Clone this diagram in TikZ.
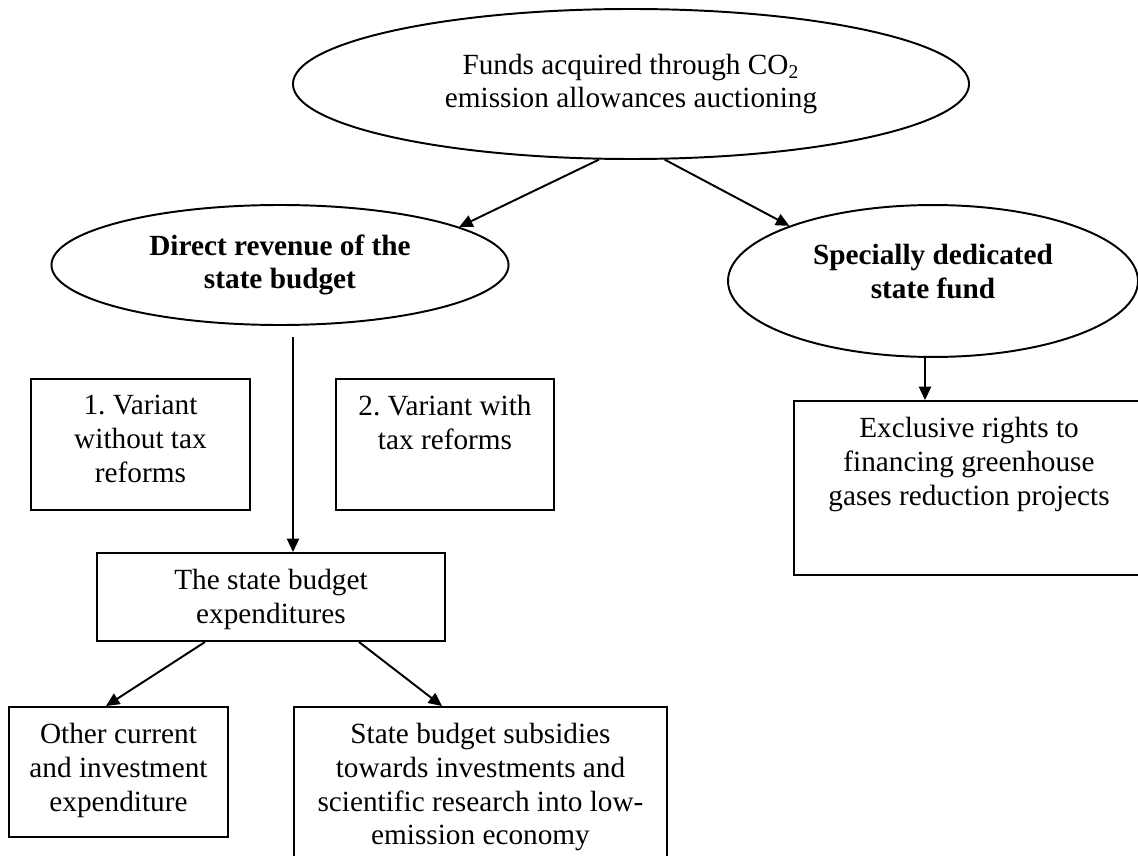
\documentclass[tikz,border=0pt]{standalone}
\usepackage{fontspec}
\setmainfont{Liberation Serif}
\usetikzlibrary{arrows.meta,calc,shapes.geometric}
\frenchspacing
\begin{document}
\begin{tikzpicture}[x=0.41pt,y=-0.41pt,
  every node/.style={font=\fontsize{12}{13.8}\selectfont},
  oval/.style={draw, ellipse, line width=0.8pt, inner sep=0pt, align=center},
  box/.style={draw, rectangle, line width=0.8pt, inner sep=0pt},
  boxtext/.style={align=center, inner sep=0pt, anchor=north},
  arr/.style={line width=0.8pt, -{Triangle[length=5.5pt,width=5pt]}},
]
\useasboundingbox (0,0) rectangle (1138,856);

% source of the funds
\node[oval, minimum width=277.2pt, minimum height=61.5pt] (funds) at (631,84)
  {Funds acquired through CO\textsubscript{2}\\emission allowances auctioning};

% the two ways the money can go
\node[oval, minimum width=187.4pt, minimum height=49.2pt] (revenue) at (280,265)
  {\bfseries Direct revenue of the\\\bfseries state budget};
\node[oval, minimum width=168.1pt, minimum height=62.3pt] (fund) at (933,281) {};
\node[align=center, inner sep=0pt] (fundtxt) at ([yshift=4pt]fund.center)
  {\bfseries Specially dedicated\\\bfseries state fund};

% variants of the budget route
\node[box, minimum width=89.8pt, minimum height=53.7pt] (var1) at (140.5,444.5) {};
\node[boxtext] (var1txt) at ([yshift=-7pt]var1.north) {1. Variant\\without tax\\reforms};
\node[box, minimum width=89.4pt, minimum height=53.7pt] (var2) at (445,444.5) {};
\node[boxtext] (var2txt) at ([yshift=-7pt]var2.north) {2. Variant with\\tax reforms};

% budget expenditures and their split
\node[box, minimum width=142.7pt, minimum height=36.1pt] (spend) at (271,597) {};
\node[boxtext] (spendtxt) at ([yshift=-7pt]spend.north) {The state budget\\expenditures};
\node[box, minimum width=89.8pt, minimum height=53.3pt] (other) at (118.5,772) {};
\node[boxtext] (othertxt) at ([yshift=-7pt]other.north) {Other current\\and investment\\expenditure};
\node[box, minimum width=152.9pt, minimum height=70.9pt] (subsid) at (480.5,793.5) {};
\node[boxtext] (subsidtxt) at ([yshift=-7pt]subsid.north)
  {State budget subsidies\\towards investments and\\scientific research into low-\\emission economy};

% dedicated fund route
\node[box, minimum width=143.5pt, minimum height=71.3pt] (excl) at (969,488) {};
\node[boxtext] (excltxt) at ([yshift=-7pt]excl.north)
  {Exclusive rights to\\financing greenhouse\\gases reduction projects};

% connectors
\draw[arr] (funds.247) -- (revenue.12);
\draw[arr] (funds.294) -- (fund.159);

\coordinate (revout) at (293,337);
\draw[arr] (revout) -- (revout |- spend.north);

\coordinate (fundout) at ($(fund.south)+(-8,0)$);
\draw[arr] (fundout) -- (fundout |- excl.north);

\draw[arr] ($(spend.south)+(-66,0)$) -- ($(other.north)+(-12.5,0)$);
\draw[arr] ($(spend.south)+(88,0)$) -- ($(subsid.north)+(-38.5,0)$);
\end{tikzpicture}
\end{document}
